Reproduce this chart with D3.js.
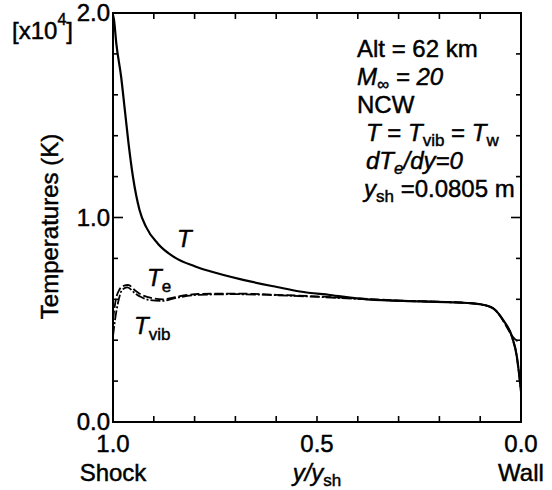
<!DOCTYPE html>
<html>
<head>
<meta charset="utf-8">
<script src="https://cdn.jsdelivr.net/npm/d3@7"></script>
<style>
  body { margin: 0; background: #fff; }
  svg { display: block; font-family: "Liberation Sans", Arial, sans-serif; }
  text { fill: #000; stroke: #000; stroke-width: 0.45; }
</style>
</head>
<body>
<svg id="chart" width="552" height="490"></svg>
<script>
// values in units of 10^4 K, position y/ysh from shock (1.0) to wall (0.0)
var xT    = [1.0, 0.9975, 0.992, 0.98, 0.971, 0.962, 0.951, 0.935, 0.919, 0.89, 0.849, 0.80, 0.762, 0.681, 0.598, 0.542, 0.468, 0.377, 0.25, 0.132, 0.1, 0.069, 0.044, 0.022, 0.01, 0.005, 0.0];
var tempT = [1.99, 1.966, 1.853, 1.687, 1.526, 1.364, 1.198, 1.037, 0.954, 0.872, 0.805, 0.762, 0.737, 0.695, 0.66, 0.638, 0.621, 0.60, 0.59, 0.582, 0.576, 0.557, 0.499, 0.416, 0.318, 0.24, 0.15];

var xTe    = [1.0, 0.993, 0.985, 0.975, 0.963, 0.945, 0.93, 0.914, 0.877, 0.848, 0.79, 0.7, 0.6, 0.5, 0.4, 0.3, 0.2, 0.13, 0.1, 0.069, 0.05, 0.04, 0.03, 0.02, 0.01, 0.0];
var tempTe = [0.5, 0.6, 0.645, 0.665, 0.67, 0.642, 0.622, 0.611, 0.60, 0.611, 0.626, 0.628, 0.622, 0.614, 0.604, 0.594, 0.588, 0.582, 0.576, 0.557, 0.517, 0.482, 0.447, 0.417, 0.398, 0.392];

var xTvib    = [1.0, 0.995, 0.988, 0.978, 0.965, 0.945, 0.931, 0.91, 0.88, 0.848, 0.79, 0.7, 0.6, 0.5, 0.4, 0.3, 0.2, 0.13, 0.1, 0.069, 0.044, 0.022, 0.01, 0.005, 0.0];
var tempTvib = [0.42, 0.5, 0.58, 0.645, 0.658, 0.628, 0.611, 0.596, 0.592, 0.606, 0.622, 0.625, 0.62, 0.612, 0.602, 0.593, 0.587, 0.581, 0.575, 0.556, 0.498, 0.415, 0.317, 0.24, 0.15];

var yMajor = [0, 1, 2];
var xLabels = [1.0, 0.5, 0.0];
var xNames = ["Shock", null, "Wall"];

var svg = d3.select("#chart");
var pLeft = 113, pRight = 521, pTop = 13, pBottom = 422;
var fs = 24, fsSub = 17;

var x = d3.scaleLinear().domain([1, 0]).range([pLeft, pRight]);
var y = d3.scaleLinear().domain([0, 2]).range([pBottom, pTop]);

function pts(xs, ys) { return xs.map(function(v, i) { return [v, ys[i]]; }); }

var line = d3.line()
    .x(function(d) { return x(d[0]); })
    .y(function(d) { return y(d[1]); })
    .curve(d3.curveMonotoneX);

// curves
svg.append("path").attr("d", line(pts(xTvib, tempTvib)))
   .attr("fill", "none").attr("stroke", "#000").attr("stroke-width", 1.8)
   .attr("stroke-dasharray", "10,2,2,2");
svg.append("path").attr("d", line(pts(xTe, tempTe)))
   .attr("fill", "none").attr("stroke", "#000").attr("stroke-width", 1.8)
   .attr("stroke-dasharray", "9,3");
svg.append("path").attr("d", line(pts(xT, tempT)))
   .attr("fill", "none").attr("stroke", "#000").attr("stroke-width", 2.2);

// frame
svg.append("rect").attr("x", pLeft).attr("y", pTop)
   .attr("width", pRight - pLeft).attr("height", pBottom - pTop)
   .attr("fill", "none").attr("stroke", "#000").attr("stroke-width", 2);

// ticks (inward on all four sides)
var xt = d3.range(0, 11).map(function(i) { return i / 10; });
var yt = d3.range(0, 11).map(function(i) { return i / 5; });
var ticks = svg.append("g").attr("stroke", "#000").attr("stroke-width", 1.6);
xt.forEach(function(v) {
    ticks.append("line").attr("x1", x(v)).attr("x2", x(v)).attr("y1", pBottom).attr("y2", pBottom - 6);
    ticks.append("line").attr("x1", x(v)).attr("x2", x(v)).attr("y1", pTop).attr("y2", pTop + 6);
});
yt.forEach(function(v) {
    var len = (yMajor.indexOf(v) >= 0) ? 10 : 5;
    ticks.append("line").attr("x1", pLeft).attr("x2", pLeft + len).attr("y1", y(v)).attr("y2", y(v));
    ticks.append("line").attr("x1", pRight).attr("x2", pRight - len).attr("y1", y(v)).attr("y2", y(v));
});

// y tick labels
svg.selectAll(".ylab").data(yMajor).enter().append("text")
   .attr("class", "ylab")
   .attr("x", pLeft - 3).attr("y", function(d) { return y(d) + 8; })
   .attr("text-anchor", "end").attr("font-size", fs)
   .text(function(d) { return d.toFixed(1); });

// multiplier
var mult = svg.append("text").attr("x", 12).attr("y", 39).attr("font-size", fs);
mult.append("tspan").text("[x10");
mult.append("tspan").attr("font-size", 16).attr("dy", -14).text("4");
mult.append("tspan").attr("dy", 14).text("]");

// x tick labels
svg.selectAll(".xlab").data(xLabels).enter().append("text")
   .attr("class", "xlab")
   .attr("x", function(d) { return x(d); }).attr("y", 452)
   .attr("text-anchor", "middle").attr("font-size", fs)
   .text(function(d) { return d.toFixed(1); });
xLabels.forEach(function(v, i) {
    if (xNames[i]) {
        svg.append("text").attr("x", x(v)).attr("y", 481)
           .attr("text-anchor", "middle").attr("font-size", fs).text(xNames[i]);
    }
});
var xt2 = svg.append("text").attr("x", x(0.5)).attr("y", 481)
   .attr("text-anchor", "middle").attr("font-size", fs);
xt2.append("tspan").attr("font-style", "italic").text("y/y");
xt2.append("tspan").attr("font-size", fsSub).attr("dy", 5).text("sh");

// y axis title
svg.append("text")
   .attr("transform", "translate(58," + ((pTop + pBottom) / 2 + 9) + ") rotate(-90)")
   .attr("text-anchor", "middle").attr("font-size", fs)
   .text("Temperatures (K)");

// curve labels
svg.append("text").attr("x", 177).attr("y", 247).attr("font-size", fs)
   .attr("font-style", "italic").text("T");
var teLab = svg.append("text").attr("x", 147).attr("y", 286).attr("font-size", fs);
teLab.append("tspan").attr("font-style", "italic").text("T");
teLab.append("tspan").attr("font-size", fsSub).attr("dy", 6).text("e");
var tvLab = svg.append("text").attr("x", 134).attr("y", 334).attr("font-size", fs);
tvLab.append("tspan").attr("font-style", "italic").text("T");
tvLab.append("tspan").attr("font-size", fsSub).attr("dy", 6).text("vib");

// annotation block
var ann = svg.append("g").attr("font-size", fs);
ann.append("text").attr("x", 357).attr("y", 57).text("Alt = 62 km");
var m = ann.append("text").attr("x", 357).attr("y", 85).attr("font-style", "italic");
m.append("tspan").text("M");
m.append("tspan").attr("font-size", fsSub).attr("dy", 5).text("\u221E");
m.append("tspan").attr("dy", -5).text(" = 20");
ann.append("text").attr("x", 357).attr("y", 113).text("NCW");
var l4 = ann.append("text").attr("x", 366).attr("y", 141);
l4.append("tspan").attr("font-style", "italic").text("T");
l4.append("tspan").text(" = ");
l4.append("tspan").attr("font-style", "italic").text("T");
l4.append("tspan").attr("font-size", fsSub).attr("dy", 5).text("vib");
l4.append("tspan").attr("dy", -5).text(" = ");
l4.append("tspan").attr("font-style", "italic").text("T");
l4.append("tspan").attr("font-size", fsSub).attr("dy", 5).text("w");
var l5 = ann.append("text").attr("x", 366).attr("y", 169).attr("font-style", "italic");
l5.append("tspan").text("dT");
l5.append("tspan").attr("font-size", fsSub).attr("dy", 5).text("e");
l5.append("tspan").attr("dy", -5).text("/dy=0");
var l6 = ann.append("text").attr("x", 364).attr("y", 197);
l6.append("tspan").attr("font-style", "italic").text("y");
l6.append("tspan").attr("font-size", fsSub).attr("dy", 5).text("sh");
l6.append("tspan").attr("dy", -5).text(" =0.0805 m");
</script>
</body>
</html>
